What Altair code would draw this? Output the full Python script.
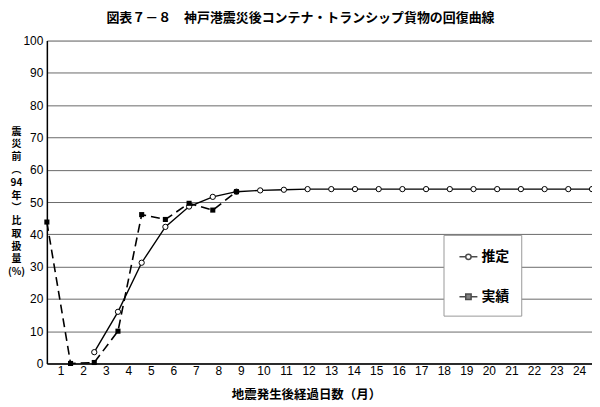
import altair as alt
import pandas as pd

# ---- data ----
x_tick_labels = [str(i) for i in range(1, 25)]   # printed month labels

est_x = [2, 3, 4, 5, 6, 7, 8, 9, 10, 11, 12, 13, 14, 15, 16, 17, 18, 19, 20, 21, 22, 23]
est_y = [3.5, 16.0, 31.2, 42.3, 48.6, 51.6, 53.2, 53.6, 53.8, 54, 54, 54, 54, 54,
         54, 54, 54, 54, 54, 54, 54, 54]

act_x = [0, 1, 2, 3, 4, 5, 6, 7, 8]
act_y = [43.8, 0.0, 0.3, 10.0, 46.1, 44.6, 49.6, 47.5, 53.2]

series_names = ["推定", "実績"]

est = pd.DataFrame({"x": est_x, "y": est_y, "series": series_names[0]})
act = pd.DataFrame({"x": act_x, "y": act_y, "series": series_names[1]})
df = pd.concat([est, act], ignore_index=True)

CJK = "Noto Sans CJK JP"
NUM = "Liberation Sans"

# label positions along the axis (labels sit slightly offset from the point grid)
lab0, labstep = 0.58, 0.951
tick_vals = [lab0 + labstep * i for i in range(len(x_tick_labels))]
label_expr = "[" + ",".join("'%s'" % s for s in x_tick_labels) + "][round((datum.value - %g) / %g)]" % (lab0, labstep)

x_enc = alt.X("x:Q",
              scale=alt.Scale(domain=[0, 23], nice=False, zero=False),
              axis=alt.Axis(values=tick_vals, labelExpr=label_expr, grid=False, ticks=False,
                            labelPadding=2, labelFontSize=12, labelFont=NUM, labelColor="black",
                            domainColor="black", domainWidth=1.5,
                            title="地震発生後経過日数（月）", titleFont=CJK, titleFontSize=12.5,
                            titleFontWeight="bold", titleColor="black",
                            titleX=260, titleY=31, titleBaseline="middle",
                            titleAlign="center"))

y_title = ["震", "災", "前", "︵", "94", "年", "︶", "比", "取", "扱", "量", "(%)"]
y_enc = alt.Y("y:Q",
              scale=alt.Scale(domain=[0, 100], nice=False),
              axis=alt.Axis(values=list(range(0, 101, 10)), grid=True, gridColor="#6a6a6a",
                            gridWidth=1, ticks=False, labelPadding=4, labelFontSize=12,
                            labelFont=NUM, labelColor="black", domainColor="black",
                            domainWidth=1.5, title=y_title, titleAngle=0, titleFont=CJK,
                            titleFontSize=10, titleFontWeight="bold", titleColor="black",
                            titleLineHeight=12.8, titleX=-31, titleY=86,
                            titleBaseline="top", titleAlign="center"))

base = alt.Chart(df)

circ_path = "M-1,0H-0.3M0.3,0H1M0.3,0A0.3,0.3,0,1,1,-0.3,0A0.3,0.3,0,1,1,0.3,0Z"
sq_path = "M-1,0H-0.32M0.32,0H1M-0.3,-0.3H0.3V0.3H-0.3Z"

# layer that only carries the legend (no rows drawn; scales have explicit domains)
legend_layer = base.transform_filter(alt.datum.x < -100).mark_point(
    filled=True, strokeWidth=1.5).encode(
    x=x_enc, y=y_enc,
    shape=alt.Shape("series:N", scale=alt.Scale(domain=series_names, range=[circ_path, sq_path]),
                    legend=alt.Legend(title=None, orient="none", legendX=398, legendY=195,
                                      padding=12, rowPadding=23, fillColor="white",
                                      strokeColor="#999", symbolSize=324, symbolOffset=3,
                                      symbolStrokeWidth=1.5, labelFont=CJK, labelFontSize=14,
                                      labelFontWeight="bold", labelColor="black",
                                      labelOffset=3)),
    fill=alt.Fill("series:N", scale=alt.Scale(domain=series_names, range=["white", "black"])),
    stroke=alt.Stroke("series:N", scale=alt.Scale(domain=series_names, range=["black", "black"])),
)

est_line = base.transform_filter(alt.datum.series == series_names[0]).mark_line(
    color="black", strokeWidth=1.4).encode(x=x_enc, y=y_enc)
act_line = base.transform_filter(alt.datum.series == series_names[1]).mark_line(
    color="black", strokeWidth=1.6, strokeDash=[9, 5]).encode(x=x_enc, y=y_enc)
est_pts = base.transform_filter(alt.datum.series == series_names[0]).mark_point(
    shape="circle", filled=True, fill="white", stroke="black", strokeWidth=1, size=28,
    opacity=1).encode(x=x_enc, y=y_enc)
act_pts = base.transform_filter(alt.datum.series == series_names[1]).mark_point(
    shape="square", filled=True, color="black", size=26, opacity=1).encode(x=x_enc, y=y_enc)

chart = alt.layer(legend_layer, est_line, act_line, est_pts, act_pts).properties(
    width=547, height=324,
    title=alt.TitleParams("図表７－８　神戸港震災後コンテナ・トランシップ貨物の回復曲線",
                          font=CJK, fontSize=13, fontWeight="bold", color="black",
                          anchor="middle", frame="group", dx=-19, offset=10),
    autosize=alt.AutoSizeParams(type="none"),
    padding={"left": 39, "top": 32, "right": 0, "bottom": 43},
).configure_view(stroke="black", strokeWidth=1.5).configure(background="white")

chart.save("out.html", embed_options={"renderer": "svg", "actions": False})
